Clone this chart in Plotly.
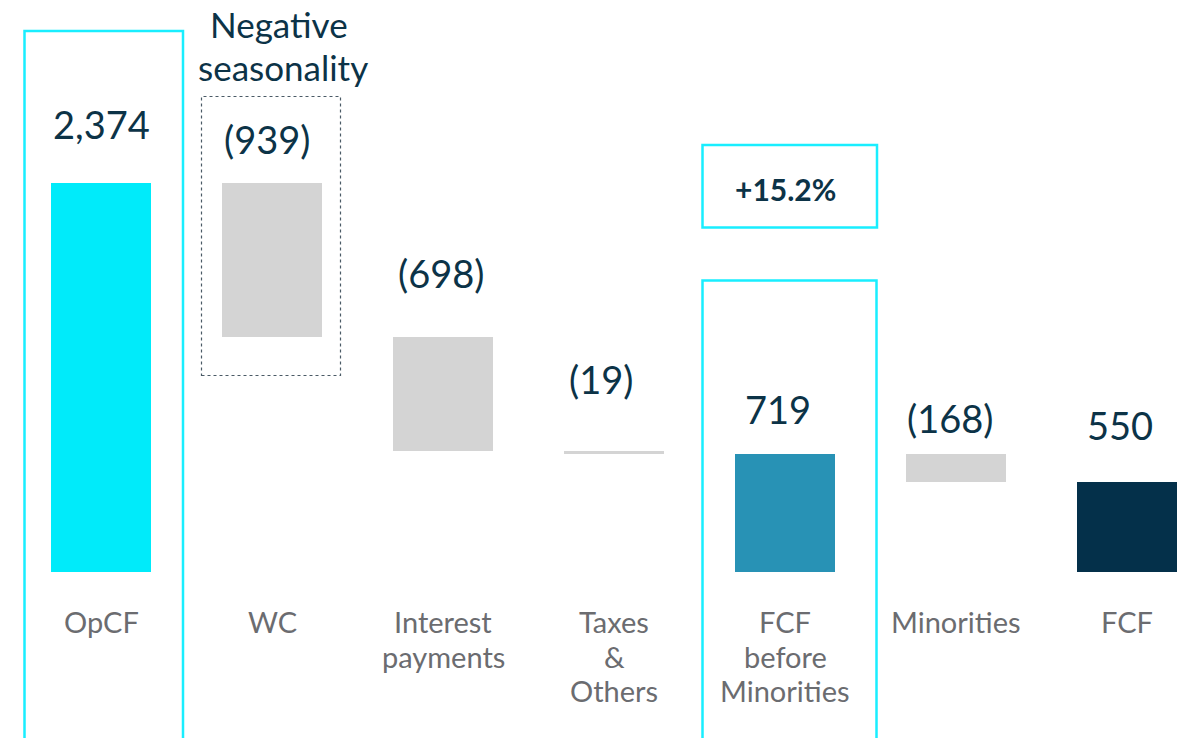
import plotly.graph_objects as go

# ---------------- data ----------------
categories = ["OpCF", "WC", "Interest payments", "Taxes & Others",
              "FCF before Minorities", "Minorities", "FCF"]
category_lines = [["OpCF"], ["WC"], ["Interest", "payments"], ["Taxes", "&", "Others"],
                  ["FCF", "before", "Minorities"], ["Minorities"], ["FCF"]]
values = [2374, -939, -698, -19, 719, -168, 550]
kinds = ["total", "delta", "delta", "delta", "total", "delta", "total"]
value_labels = ["2,374", "(939)", "(698)", "(19)", "719", "(168)", "550"]
bar_colors = ["#00EBFA", "#D4D4D4", "#D4D4D4", "#D4D4D4", "#2892B5", "#D4D4D4", "#04304A"]
growth_label = "+15.2%"
note_lines = ["Negative", "seasonality"]

# ---------------- styling / layout constants ----------------
W, H = 1184, 738
FONT = "Lato"
NAVY = "#0C3347"
GREY_TXT = "#6B6C70"
CYAN_LINE = "#19EEFF"

x_pos = list(range(len(categories)))
# label offsets (px above bar top) and small horizontal nudges
label_dy = [59, 44, 64, 72, 45, 36, 57]
label_dx = [0, -5, -2, -13, -7, -6, -7]

# waterfall bases
bases, running = [], 0
for v, k in zip(values, kinds):
    if k == "total":
        bases.append(0)
        running = v
    else:
        bases.append(running)
        running += v

fig = go.Figure()
fig.add_trace(go.Bar(
    x=x_pos, y=values, base=bases, width=0.585,
    marker=dict(color=bar_colors, line=dict(width=0)),
    hoverinfo="skip", showlegend=False,
))

def py2paper(py):
    return 1 - py / H

annotations = []
# value labels
for i, (b, v) in enumerate(zip(bases, values)):
    top = max(b, b + v)
    annotations.append(dict(
        x=x_pos[i], y=top, xref="x", yref="y", text=value_labels[i],
        showarrow=False, yanchor="middle", xanchor="center",
        yshift=label_dy[i], xshift=label_dx[i],
        font=dict(family=FONT, size=38, color=NAVY),
    ))
# category labels (one annotation per line)
for i, lines in enumerate(category_lines):
    for k, line in enumerate(lines):
        annotations.append(dict(
            x=x_pos[i], y=0, xref="x", yref="y", text=line,
            showarrow=False, yanchor="middle", xanchor="center",
            yshift=-50 - 34.5 * k, borderpad=0,
            font=dict(family=FONT, size=29, color=GREY_TXT),
        ))
# note above WC
for k, (line, px, py) in enumerate(zip(note_lines, [279, 283], [24, 67])):
    annotations.append(dict(
        x=px / W, y=py2paper(py), xref="paper", yref="paper", text=line,
        showarrow=False, yanchor="middle", xanchor="center", borderpad=0,
        font=dict(family=FONT, size=35, color=NAVY),
    ))
# growth label
annotations.append(dict(
    x=785 / W, y=py2paper(189), xref="paper", yref="paper",
    text="<b>" + growth_label + "</b>",
    showarrow=False, yanchor="middle", xanchor="center",
    font=dict(family=FONT, size=30, color=NAVY),
))

shapes = [
    # OpCF highlight box
    dict(type="rect", xref="paper", yref="paper",
         x0=24.5 / W, x1=183 / W, y0=py2paper(760), y1=py2paper(31),
         line=dict(color=CYAN_LINE, width=2.5), fillcolor="rgba(0,0,0,0)"),
    # WC dotted box
    dict(type="rect", xref="paper", yref="paper",
         x0=201.5 / W, x1=340.5 / W, y0=py2paper(375.5), y1=py2paper(96.5),
         line=dict(color="#4A5A66", width=1.2, dash="dot"), fillcolor="rgba(0,0,0,0)"),
    # growth box
    dict(type="rect", xref="paper", yref="paper",
         x0=702.5 / W, x1=877 / W, y0=py2paper(227.5), y1=py2paper(145),
         line=dict(color=CYAN_LINE, width=2.5), fillcolor="rgba(0,0,0,0)"),
    # FCF before minorities box
    dict(type="rect", xref="paper", yref="paper",
         x0=702.5 / W, x1=876.5 / W, y0=py2paper(760), y1=py2paper(280.5),
         line=dict(color=CYAN_LINE, width=2.5), fillcolor="rgba(0,0,0,0)"),
]

fig.update_layout(
    width=W, height=H,
    margin=dict(l=0, r=0, t=0, b=0),
    paper_bgcolor="white", plot_bgcolor="white",
    xaxis=dict(range=[-0.5906, 6.333], visible=False, fixedrange=True),
    yaxis=dict(range=[-1013, 3490], visible=False, fixedrange=True),
    annotations=annotations, shapes=shapes,
    bargap=0, showlegend=False,
)

fig.write_html("out.html", config={"displayModeBar": False},
               post_script="document.body.style.margin='0';document.body.style.overflow='hidden';")
